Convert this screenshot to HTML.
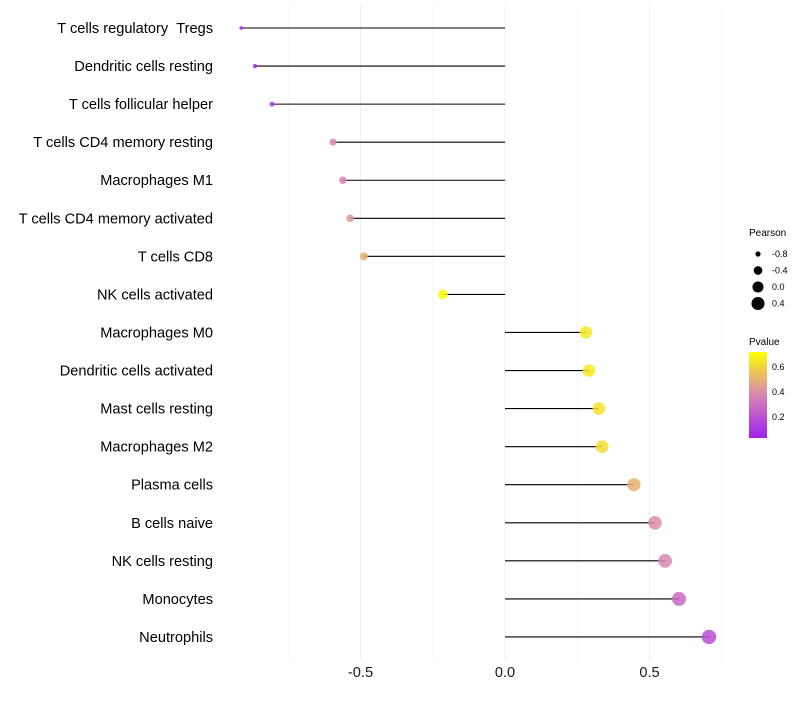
<!DOCTYPE html>
<html><head><meta charset="utf-8"><style>
body{margin:0;background:#fff;font-family:"Liberation Sans",sans-serif}
</style></head><body>
<svg id="chart" width="800" height="700" xmlns="http://www.w3.org/2000/svg">
<g id="grid"></g>
<g id="marks"></g>
<g id="ylabels" font-size="14.6" fill="#000" text-anchor="end"></g>
<g id="xlabels" font-size="14.6" fill="#1a1a1a" text-anchor="middle"></g>
<g font-size="9" fill="#000">
<text x="749" y="236" font-size="10">Pearson</text>
<g id="sizeLegend"></g>
</g>
<g font-size="9" fill="#000">
<defs><linearGradient id="pg" x1="0" y1="1" x2="0" y2="0">
<stop offset="0" stop-color="#a020f0"/><stop offset="0.51" stop-color="#d888b0"/><stop offset="1" stop-color="#ffff00"/></linearGradient></defs>
<text x="749" y="345" font-size="10">Pvalue</text>
<rect x="749" y="352" width="18" height="86" fill="url(#pg)"/>
<text x="772" y="370">0.6</text><text x="772" y="395">0.4</text><text x="772" y="420">0.2</text>
</g>
</svg>
<script>
const categories=["T cells regulatory \u00a0Tregs","Dendritic cells resting","T cells follicular helper","T cells CD4 memory resting","Macrophages M1","T cells CD4 memory activated","T cells CD8","NK cells activated","Macrophages M0","Dendritic cells activated","Mast cells resting","Macrophages M2","Plasma cells","B cells naive","NK cells resting","Monocytes","Neutrophils"];
const pearson=[-0.913,-0.865,-0.806,-0.595,-0.561,-0.536,-0.488,-0.215,0.280,0.291,0.325,0.336,0.446,0.519,0.554,0.602,0.706];
const pvalue=[0.03,0.05,0.1,0.38,0.36,0.42,0.5,0.72,0.65,0.66,0.64,0.62,0.5,0.4,0.38,0.28,0.18];
const xTicks=[-0.5,0,0.5];
const xTickLabels=["-0.5","0.0","0.5"];
const sizeLegendVals=[-0.8,-0.4,0.0,0.4];
const sizeLegendLabels=["-0.8","-0.4","0.0","0.4"];
const NS="http://www.w3.org/2000/svg";
const xs=v=>505+v*289;
const ys=i=>28+i*38.06;
const rs=v=>Math.sqrt(3.2+(v+0.913)/1.619*(52-3.2));
function lerp(a,b,t){return a.map((x,i)=>Math.round(x+(b[i]-x)*t));}
function col(p){const A=[160,32,240],B=[216,136,176],C=[255,255,0];
 let c;if(p<=0.38)c=lerp(A,B,Math.max(0,(p-0.03)/0.35));else c=lerp(B,C,Math.min(1,(p-0.38)/0.34));
 return `rgb(${c.join(',')})`;}
function mk(tag,at,parent){const e=document.createElementNS(NS,tag);for(const k in at)e.setAttribute(k,at[k]);parent.appendChild(e);return e;}
const grid=document.getElementById('grid');
[-0.75,-0.5,-0.25,0,0.25,0.5,0.75].forEach(v=>{const l=mk('line',{x1:xs(v),x2:xs(v),y1:5,y2:660,stroke:'#f0f0f0','stroke-width':Math.abs(v*4)%2===1?0.6:1.1},grid);

});
const marks=document.getElementById('marks');
categories.forEach((c,i)=>{
 const y=ys(i);
 const l=mk('line',{x1:xs(0),x2:xs(pearson[i]),y1:y,y2:y,stroke:'#000','stroke-width':1.1},marks);
 
 
 const d=mk('circle',{cx:xs(pearson[i]),cy:y,r:rs(pearson[i]),fill:col(pvalue[i]),'fill-opacity':0.85},marks);
 
 
 const t=mk('text',{x:213,y:y+5},document.getElementById('ylabels'));t.textContent=c;
 
 
});
xTicks.forEach((v,i)=>{const t=mk('text',{x:xs(v),y:677},document.getElementById('xlabels'));t.textContent=xTickLabels[i];
 
 });
const sl=document.getElementById('sizeLegend');
sizeLegendVals.forEach((v,i)=>{const y=254+i*16.5;
 const c=mk('circle',{cx:758,cy:y,r:rs(v),fill:'#000'},sl);
 
 
 const t=mk('text',{x:772,y:y+3},sl);t.textContent=sizeLegendLabels[i];
 
 });
</script>
</body></html>
